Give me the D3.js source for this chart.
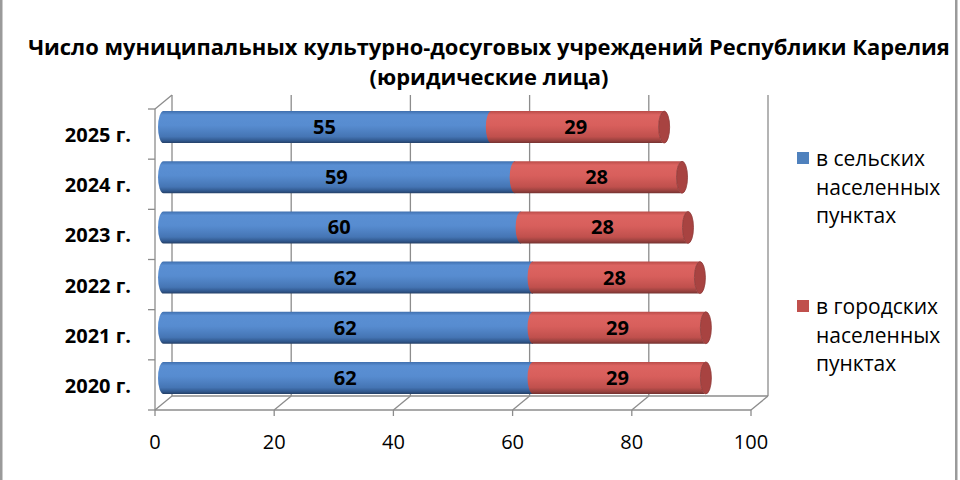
<!DOCTYPE html>
<html><head><meta charset="utf-8">
<script src="https://cdn.jsdelivr.net/npm/d3@7/dist/d3.min.js"></script>
<style>html,body{margin:0;padding:0;background:#fff;}svg{display:block;}</style>
</head><body>
<svg id="c" width="960" height="480"></svg>
<script>
const categories = ["2020 г.", "2021 г.", "2022 г.", "2023 г.", "2024 г.", "2025 г."];
const rural = [62, 62, 62, 60, 59, 55];
const urban = [29, 29, 28, 28, 28, 29];
const xTicks = [0, 20, 40, 60, 80, 100];
const seriesNames = ["в сельских населенных пунктах", "в городских населенных пунктах"];
const legendLines = [["в сельских", "населенных", "пунктах"], ["в городских", "населенных", "пунктах"]];
const titleLines = ["Число муниципальных культурно-досуговых учреждений Республики Карелия", "(юридические лица)"];

const FONT = "'Open Sans', sans-serif";
const svg = d3.select("#c");
const grid = "#8c8c8c";

// frame side lines
svg.append("rect").attr("x", 0).attr("y", 0).attr("width", 2.5).attr("height", 480).attr("fill", "#9a9a9a");
svg.append("rect").attr("x", 955).attr("y", 0).attr("width", 2.5).attr("height", 480).attr("fill", "#9a9a9a");

// gradients
const defs = svg.append("defs");
function grad(id, stops) {
  const g = defs.append("linearGradient").attr("id", id).attr("x1", 0).attr("y1", 0).attr("x2", 0).attr("y2", 1);
  stops.forEach(s => g.append("stop").attr("offset", s[0]).attr("stop-color", s[1]));
}
grad("gBlue", [[0, "#3f6fae"], [0.12, "#5a8fd3"], [0.45, "#578cd0"], [0.8, "#4575b4"], [0.93, "#30578c"], [1, "#243f66"]]);
grad("gRed", [[0, "#b94b48"], [0.12, "#dc6461"], [0.45, "#d85f5c"], [0.8, "#c0504d"], [0.93, "#96403d"], [1, "#733130"]]);

// scales
const x = d3.scaleLinear().domain([0, 100]).range([155, 751]);
const y = d3.scaleBand().domain(categories.slice().reverse()).range([109, 410]);
const DX = 17, DY = -14;
const floorY = 410, topY = 109;

// back wall gridlines
const gG = svg.append("g").attr("stroke", grid).attr("stroke-width", 1.3).attr("fill", "none");
xTicks.forEach(t => {
  gG.append("line").attr("x1", x(t) + DX).attr("x2", x(t) + DX).attr("y1", topY + DY).attr("y2", floorY + DY);
  gG.append("line").attr("x1", x(t)).attr("x2", x(t) + DX).attr("y1", floorY).attr("y2", floorY + DY);
  gG.append("line").attr("x1", x(t)).attr("x2", x(t)).attr("y1", floorY).attr("y2", floorY + 6);
});
// back floor line
gG.append("line").attr("x1", x(0) + DX).attr("x2", x(100) + DX).attr("y1", floorY + DY).attr("y2", floorY + DY);
// front floor line
gG.append("line").attr("x1", x(0)).attr("x2", x(100)).attr("y1", floorY).attr("y2", floorY);
// left wall
gG.append("line").attr("x1", x(0)).attr("x2", x(0)).attr("y1", topY).attr("y2", floorY);
gG.append("line").attr("x1", x(0)).attr("x2", x(0) + DX).attr("y1", topY).attr("y2", topY + DY);
// category ticks
const cTicks = categories.map(c => y(c)).concat([floorY]);
cTicks.forEach(v => gG.append("line").attr("x1", x(0) - 7).attr("x2", x(0)).attr("y1", v).attr("y2", v));

// bars
const bh = 32, rx = 5.5;
const midDX = DX / 2, midDY = DY / 2;
const gB = svg.append("g");
categories.forEach((c, i) => {
  const cy = y(c) + y.bandwidth() / 2 + midDY;
  const top = cy - bh / 2, bot = cy + bh / 2;
  const x0 = x(0) + midDX, x1 = x(rural[i]) + midDX, x2 = x(rural[i] + urban[i]) + midDX;
  // blue segment: rounded left
  gB.append("path")
    .attr("d", `M${x1},${top} L${x0},${top} A${rx},${bh/2} 0 0 0 ${x0},${bot} L${x1},${bot} Z`)
    .attr("fill", "url(#gBlue)");
  // red segment: left bulges left (front half of boundary), right end face
  gB.append("path")
    .attr("d", `M${x1},${top} A${rx},${bh/2} 0 0 0 ${x1},${bot} L${x2},${bot} A${rx},${bh/2} 0 0 1 ${x2},${top} Z`)
    .attr("fill", "url(#gRed)");
  gB.append("ellipse").attr("cx", x2).attr("cy", cy).attr("rx", rx).attr("ry", bh / 2)
    .attr("fill", "#a84341").attr("stroke", "#8e3937").attr("stroke-width", 0.8);
  // labels
  gB.append("text").attr("x", (x0 + x1) / 2 - 3).attr("y", cy).attr("dy", "0.35em")
    .attr("text-anchor", "middle").attr("font-family", FONT).attr("font-weight", 700).attr("font-size", 20)
    .attr("fill", "#000").text(rural[i]);
  gB.append("text").attr("x", (x1 + x2) / 2 - 2).attr("y", cy).attr("dy", "0.35em")
    .attr("text-anchor", "middle").attr("font-family", FONT).attr("font-weight", 700).attr("font-size", 20)
    .attr("fill", "#000").text(urban[i]);
});

// right wall (drawn after bars)
gG.raise();
svg.selectAll(".dummy");
// redraw bars above grid front lines? bars should be over back gridlines
gB.raise();

// category labels
categories.forEach(c => {
  svg.append("text").attr("x", 131).attr("y", y(c) + y.bandwidth() / 2 + 1).attr("dy", "0.35em")
    .attr("text-anchor", "end").attr("font-family", FONT).attr("font-weight", 700).attr("font-size", 20)
    .attr("fill", "#000").text(c);
});

// x tick labels
xTicks.forEach(t => {
  svg.append("text").attr("x", x(t)).attr("y", 449).attr("text-anchor", "middle")
    .attr("font-family", FONT).attr("font-size", 20).attr("fill", "#000").text(t);
});

// legend
const legCol = ["#4f81bd", "#c0504d"];
const legY = [152, 300];
legendLines.forEach((lines, k) => {
  svg.append("rect").attr("x", 797).attr("y", legY[k]).attr("width", 12).attr("height", 12).attr("fill", legCol[k]);
  lines.forEach((ln, j) => {
    svg.append("text").attr("x", 816).attr("y", legY[k] + 14 + j * 28.5)
      .attr("font-family", FONT).attr("font-size", 21).attr("fill", "#000").text(ln);
  });
});

// title
const tW = [922, 239];
titleLines.forEach((ln, j) => {
  const t = svg.append("text").attr("x", 489).attr("y", 55 + j * 30).attr("text-anchor", "middle")
    .attr("font-family", FONT).attr("font-weight", 700).attr("font-size", 20).attr("fill", "#000").text(ln);
  const w = t.node().getComputedTextLength();
  if (j === 0) { window._ts = 20 * tW[0] / w; }
});
svg.selectAll("text").filter(function(){ return titleLines.includes(this.textContent); })
  .attr("font-size", Math.min(window._ts, 24));
</script>
</body></html>
